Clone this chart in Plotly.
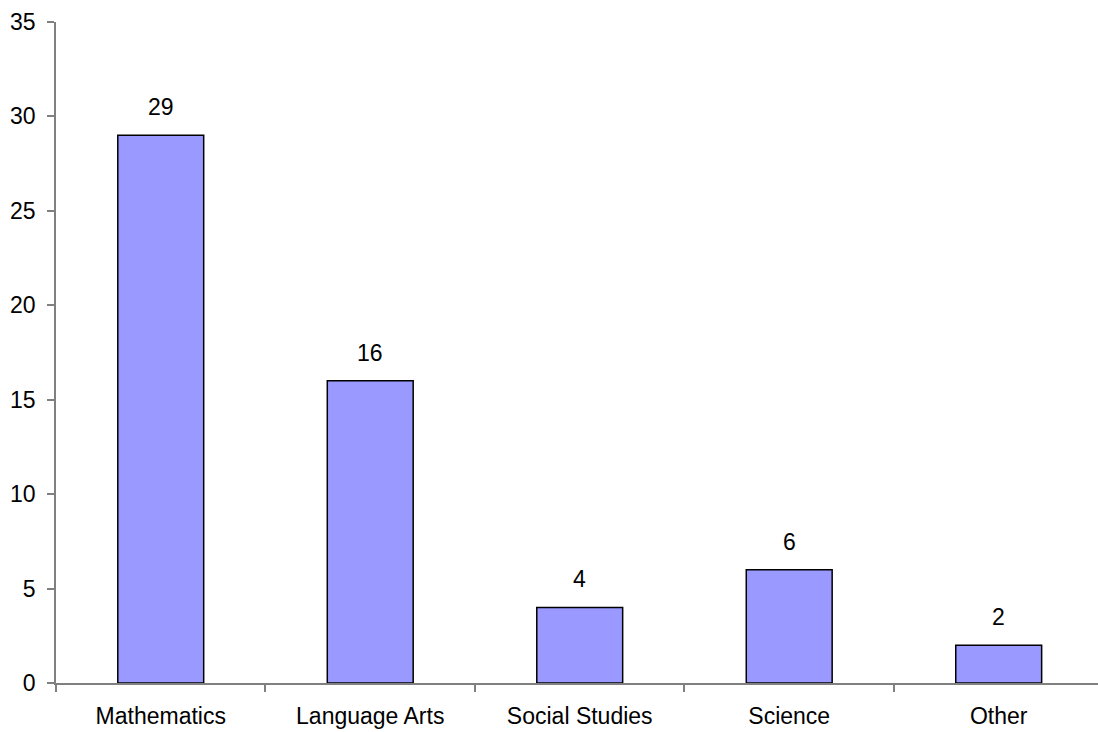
import plotly.graph_objects as go

# Number of courses per subject area
subjects = ["Mathematics", "Language Arts", "Social Studies", "Science", "Other"]
counts = [29, 16, 4, 6, 2]

FONT = "Liberation Sans, Arial, sans-serif"
AXIS_GREY = "#808080"
FS = 23

fig = go.Figure()
fig.add_trace(go.Bar(
    x=subjects,
    y=counts,
    width=0.41,
    marker=dict(color="#9999FF", line=dict(color="#000000", width=1.5)),
    hoverinfo="x+y",
))

# Value labels sitting above each bar
for s, c in zip(subjects, counts):
    fig.add_annotation(
        x=s, y=c, text=str(c), showarrow=False,
        yanchor="bottom", yshift=13,
        font=dict(family=FONT, size=FS, color="#000000"),
    )

fig.update_layout(
    width=1098, height=732,
    margin=dict(l=56, r=0, t=22, b=49),
    paper_bgcolor="white", plot_bgcolor="white",
    showlegend=False,
    font=dict(family=FONT, size=FS, color="#000000"),
)
fig.update_xaxes(
    type="category",
    range=[-0.5, 4.474],
    tickson="boundaries",
    ticks="outside", ticklen=7, tickcolor=AXIS_GREY, tickwidth=1.5,
    ticklabelstandoff=12,
    showline=True, linecolor=AXIS_GREY, linewidth=1.5,
    showgrid=False, zeroline=False,
    tickfont=dict(family=FONT, size=FS),
)
fig.update_yaxes(
    range=[0, 35], dtick=5,
    ticks="outside", ticklen=7, tickcolor=AXIS_GREY, tickwidth=1.5,
    ticklabelstandoff=7,
    showline=True, linecolor=AXIS_GREY, linewidth=1.5,
    showgrid=False, zeroline=False,
    tickfont=dict(family=FONT, size=FS),
)

fig.write_html("out.html")
